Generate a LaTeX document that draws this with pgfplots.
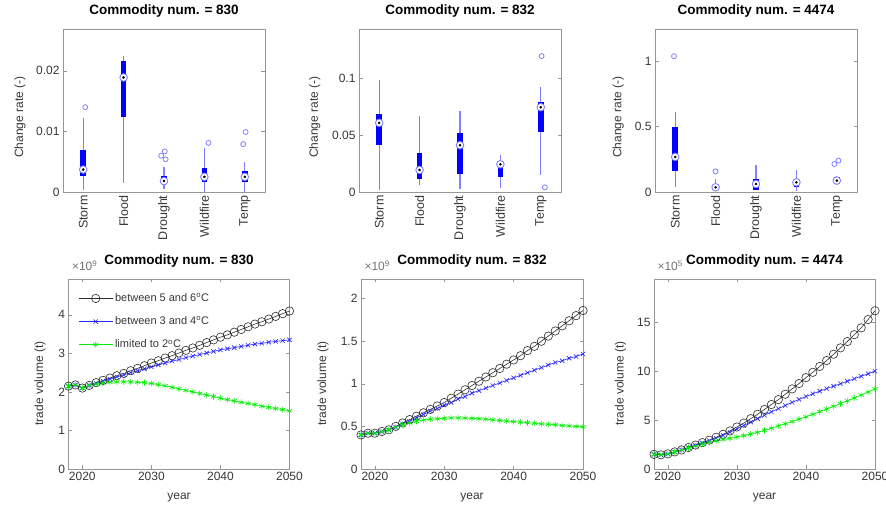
\documentclass[border=0pt]{standalone}
\usepackage{fontspec}
\setmainfont{Liberation Sans}
\usepackage{pgfplots}
\usepackage{pgfplotstable}
\pgfplotsset{compat=1.18}

\definecolor{axgray}{RGB}{150,150,150}
\definecolor{tickc}{RGB}{55,55,55}
\definecolor{wblue}{RGB}{128,128,255}
\definecolor{bblue}{RGB}{0,0,255}
\definecolor{lgreen}{RGB}{0,240,0}
\definecolor{cblack}{RGB}{45,45,45}

% ---------- box plot data: quartiles and median
\pgfplotstableread{
x q1 med q3
1 0.0026 0.0037 0.0070
2 0.0124 0.0189 0.0216
3 0.0013 0.0018 0.0026
4 0.0016 0.0025 0.0039
5 0.0016 0.0025 0.0034
}\boxA
% whiskers: lower and upper end for each category, nan separates them
\pgfplotstableread{
x y
1 0.0003
1 0.0122
1 nan
2 0.0015
2 0.0224
2 nan
3 0.0005
3 0.0041
3 nan
4 0.0000
4 0.0072
4 nan
5 0.0000
5 0.0049
}\whA
\pgfplotstableread{
x y
1.05 0.0140
2.93 0.0060
3.02 0.0067
3.04 0.0054
4.10 0.0081
4.96 0.0079
5.02 0.0099
}\outA
\pgfplotstableread{
x q1 med q3
1 0.0418 0.0609 0.0690
2 0.0118 0.0194 0.0344
3 0.0159 0.0412 0.0520
4 0.0132 0.0244 0.0232
5 0.0530 0.0747 0.0790
}\boxB
\pgfplotstableread{
x y
1 0.0015
1 0.0985
1 nan
2 0.0060
2 0.0668
2 nan
3 0.0026
3 0.0712
3 nan
4 0.0035
4 0.0330
4 nan
5 0.0153
5 0.0926
}\whB
\pgfplotstableread{
x y
5.02 0.1197
5.10 0.0041
}\outB
\pgfplotstableread{
x q1 med q3
1 0.158 0.268 0.497
2 0.020 0.036 0.045
3 0.018 0.061 0.102
4 0.038 0.074 0.094
5 0.074 0.087 0.115
}\boxC
\pgfplotstableread{
x y
1 0.038
1 0.610
1 nan
2 0.013
2 0.102
2 nan
3 0.018
3 0.204
3 nan
4 0.005
4 0.166
4 nan
5 0.080
5 0.120
}\whC
\pgfplotstableread{
x y
0.97 1.038
2.00 0.158
4.94 0.214
5.04 0.240
}\outC

% ---------- trade volume: a = 5-6 C, b = 3-4 C, c = 2 C
\pgfplotstableread{
year a b c
2018 2.15 2.15 2.15
2019 2.18 2.18 2.18
2020 2.10 2.10 2.10
2021 2.17 2.17 2.17
2022 2.24 2.22 2.20
2023 2.30 2.28 2.23
2024 2.36 2.33 2.25
2025 2.42 2.39 2.26
2026 2.48 2.44 2.26
2027 2.55 2.50 2.26
2028 2.61 2.55 2.25
2029 2.68 2.60 2.24
2030 2.75 2.65 2.22
2031 2.81 2.70 2.19
2032 2.88 2.75 2.16
2033 2.94 2.80 2.12
2034 3.01 2.84 2.08
2035 3.08 2.89 2.04
2036 3.14 2.93 2.00
2037 3.21 2.97 1.96
2038 3.28 3.01 1.92
2039 3.35 3.05 1.88
2040 3.42 3.09 1.84
2041 3.48 3.12 1.80
2042 3.55 3.15 1.77
2043 3.62 3.18 1.73
2044 3.69 3.21 1.70
2045 3.76 3.24 1.67
2046 3.82 3.26 1.63
2047 3.89 3.29 1.60
2048 3.96 3.31 1.57
2049 4.03 3.33 1.54
2050 4.10 3.35 1.51
}\lineA
\pgfplotstableread{
year a b c
2018 0.40 0.40 0.40
2019 0.42 0.42 0.42
2020 0.42 0.42 0.42
2021 0.44 0.44 0.44
2022 0.46 0.46 0.46
2023 0.50 0.49 0.49
2024 0.54 0.53 0.52
2025 0.58 0.56 0.54
2026 0.62 0.60 0.56
2027 0.66 0.64 0.575
2028 0.70 0.68 0.585
2029 0.74 0.71 0.59
2030 0.78 0.75 0.595
2031 0.83 0.78 0.60
2032 0.88 0.82 0.60
2033 0.93 0.85 0.598
2034 0.98 0.89 0.595
2035 1.03 0.92 0.59
2036 1.08 0.95 0.585
2037 1.13 0.98 0.578
2038 1.18 1.01 0.57
2039 1.23 1.04 0.563
2040 1.28 1.07 0.556
2041 1.33 1.10 0.55
2042 1.39 1.13 0.543
2043 1.44 1.16 0.537
2044 1.50 1.19 0.53
2045 1.56 1.22 0.525
2046 1.62 1.25 0.52
2047 1.68 1.27 0.51
2048 1.74 1.30 0.505
2049 1.80 1.32 0.50
2050 1.86 1.35 0.495
}\lineB
\pgfplotstableread{
year a b c
2018 1.50 1.50 1.50
2019 1.45 1.45 1.45
2020 1.55 1.55 1.55
2021 1.75 1.75 1.75
2022 1.95 1.95 1.95
2023 2.20 2.18 2.15
2024 2.45 2.42 2.35
2025 2.70 2.66 2.55
2026 2.95 2.90 2.73
2027 3.25 3.16 2.88
2028 3.55 3.45 3.02
2029 3.90 3.76 3.14
2030 4.30 4.10 3.28
2031 4.70 4.45 3.42
2032 5.15 4.80 3.58
2033 5.60 5.15 3.76
2034 6.10 5.50 3.96
2035 6.60 5.85 4.17
2036 7.10 6.18 4.40
2037 7.65 6.50 4.63
2038 8.20 6.82 4.86
2039 8.75 7.12 5.10
2040 9.35 7.42 5.34
2041 9.90 7.70 5.60
2042 10.50 7.97 5.87
2043 11.10 8.23 6.14
2044 11.75 8.48 6.42
2045 12.40 8.73 6.70
2046 13.05 8.98 6.98
2047 13.75 9.24 7.27
2048 14.45 9.50 7.57
2049 15.30 9.75 7.88
2050 16.20 10.00 8.20
}\lineC

\pgfplotsset{
  base/.style={
    scale only axis, anchor=south west,
    axis line style={draw=axgray, line width=0.6pt},
    every tick/.style={draw=axgray, line width=0.5pt},
    major tick length=3.5pt,
    tick align=inside, tick pos=both,
    xticklabel pos=lower, yticklabel pos=left,
    scaled x ticks=false, scaled y ticks=false,
    ticklabel style={font=\fontsize{12}{12}\selectfont, text=tickc},
    label style={font=\fontsize{12}{12}\selectfont, text=tickc},
    title style={font=\bfseries\fontsize{13.5}{14}\selectfont, at={(0.5,1)}, anchor=base, yshift=8.5pt},
    clip=false,
  },
  boxrow/.style={
    base, width=202pt, height=163pt,
    xmin=0.5, xmax=5.5, ymin=0,
    xtick={1,2,3,4,5},
    xticklabels={Storm,Flood,Drought,Wildfire,Temp},
    xticklabel style={rotate=90, anchor=east, font=\fontsize{12.5}{12.5}\selectfont},
    xtick style={draw=none},
    ylabel={Change rate (-)},
  },
  linerow/.style={
    base, width=221pt, height=190pt,
    xmin=2018, xmax=2050, ymin=0,
    xtick={2020,2030,2040,2050},
    xticklabels={2020,2030,2040,2050},
    xlabel={year}, ylabel={trade volume (t)},
    xlabel style={at={(axis description cs:0.5,-0.151)}, anchor=center},
  },
  whisk/.style={draw=wblue, solid, line width=1.2pt, mark=none, forget plot,
    unbounded coords=jump},
  boxb/.style={color=bblue, only marks, mark=none, forget plot,
    error bars/.cd, y dir=both, y explicit, error mark=none,
    error bar style={color=bblue, solid, line width=5.5pt, line cap=butt}},
  medring/.style={only marks, forget plot, mark=*, mark size=3.8pt,
    mark options={draw=wblue, fill=white, line width=0.9pt}},
  meddot/.style={only marks, forget plot, mark=*, mark size=1.1pt,
    mark options={draw=black, fill=black}},
  outl/.style={only marks, forget plot, mark=o, mark size=2.5pt,
    mark options={draw=wblue, line width=0.8pt}},
  sA/.style={color=cblack, line width=0.6pt, mark=o, mark size=4.2pt, mark options={line width=0.6pt}},
  sB/.style={color=bblue!85!white, line width=0.6pt, mark=x, mark size=3pt, mark options={line width=0.6pt}},
  sC/.style={color=lgreen, line width=0.6pt, mark=asterisk, mark size=3pt, mark options={line width=0.6pt}},
}

\newcommand{\boxes}[3]{%
  \addplot[whisk] table[x=x, y=y] {#2};
  \addplot[boxb] table[x=x, y=med, y error plus expr=\thisrow{q3}-\thisrow{med}, y error minus expr=\thisrow{med}-\thisrow{q1}] {#1};
  \addplot[medring] table[x=x, y=med] {#1};
  \addplot[meddot] table[x=x, y=med] {#1};
  \addplot[outl] table[x=x, y=y] {#3};
}
\newcommand{\lines}[1]{%
  \addplot[sA] table[x=year, y=a] {#1};
  \addplot[sB] table[x=year, y=b] {#1};
  \addplot[sC] table[x=year, y=c] {#1};
}
\newcommand{\scalelab}[1]{%
  \node[anchor=base west, font=\fontsize{12}{12}\selectfont, text=tickc!70, yshift=8.5pt] at (rel axis cs:0,1) {×10\textsuperscript{#1}};
}

\begin{document}
\begin{tikzpicture}
\path[use as bounding box] (0pt,0pt) rectangle (886pt,506pt);

% ---------------- top row
\begin{axis}[boxrow, at={(63pt,314pt)}, ymax=0.0269,
  title={Commodity num. = 830},
  ytick={0,0.01,0.02}, yticklabels={0,0.01,0.02},
  ylabel style={at={(axis description cs:-0.213,0.46)}, anchor=center}]
\boxes{\boxA}{\whA}{\outA}
\end{axis}

\begin{axis}[boxrow, at={(359pt,314pt)}, ymax=0.1436,
  title={Commodity num. = 832},
  ytick={0,0.05,0.1}, yticklabels={0,0.05,0.1},
  ylabel style={at={(axis description cs:-0.219,0.46)}, anchor=center}]
\boxes{\boxB}{\whB}{\outB}
\end{axis}

\begin{axis}[boxrow, at={(655pt,314pt)}, ymax=1.246,
  title={Commodity num. = 4474},
  ytick={0,0.5,1}, yticklabels={0,0.5,1},
  ylabel style={at={(axis description cs:-0.182,0.46)}, anchor=center}]
\boxes{\boxC}{\whC}{\outC}
\end{axis}

% ---------------- bottom row
\begin{axis}[linerow, at={(68.5pt,37pt)}, ymax=4.93,
  title={Commodity num. = 830},
  ytick={0,1,2,3,4}, yticklabels={0,1,2,3,4},
  ylabel style={at={(axis description cs:-0.129,0.45)}, anchor=center},
  legend style={at={(axis description cs:0.035,0.945)}, anchor=north west,
    draw=none, fill=none, font=\fontsize{11}{11}\selectfont, text=tickc,
    row sep=9.5pt, inner sep=2pt},
  legend cell align=left,
  legend image code/.code={\draw[mark repeat=2, mark phase=2] plot coordinates {(0pt,0pt) (17pt,0pt) (34pt,0pt)};}]
\lines{\lineA}
\legend{between 5 and 6\textsuperscript{o}C, between 3 and 4\textsuperscript{o}C, limited to 2\textsuperscript{o}C}
\scalelab{9}
\end{axis}

\begin{axis}[linerow, at={(361pt,37pt)}, width=222pt, ymax=2.23,
  title={Commodity num. = 832},
  ytick={0,0.5,1,1.5,2}, yticklabels={0,0.5,1,1.5,2},
  ylabel style={at={(axis description cs:-0.171,0.45)}, anchor=center}]
\lines{\lineB}
\scalelab{9}
\end{axis}

\begin{axis}[linerow, at={(654pt,37pt)}, ymax=19.45,
  title={Commodity num. = 4474},
  ytick={0,5,10,15}, yticklabels={0,5,10,15},
  ylabel style={at={(axis description cs:-0.152,0.45)}, anchor=center}]
\lines{\lineC}
\scalelab{5}
\end{axis}
\end{tikzpicture}
\end{document}
